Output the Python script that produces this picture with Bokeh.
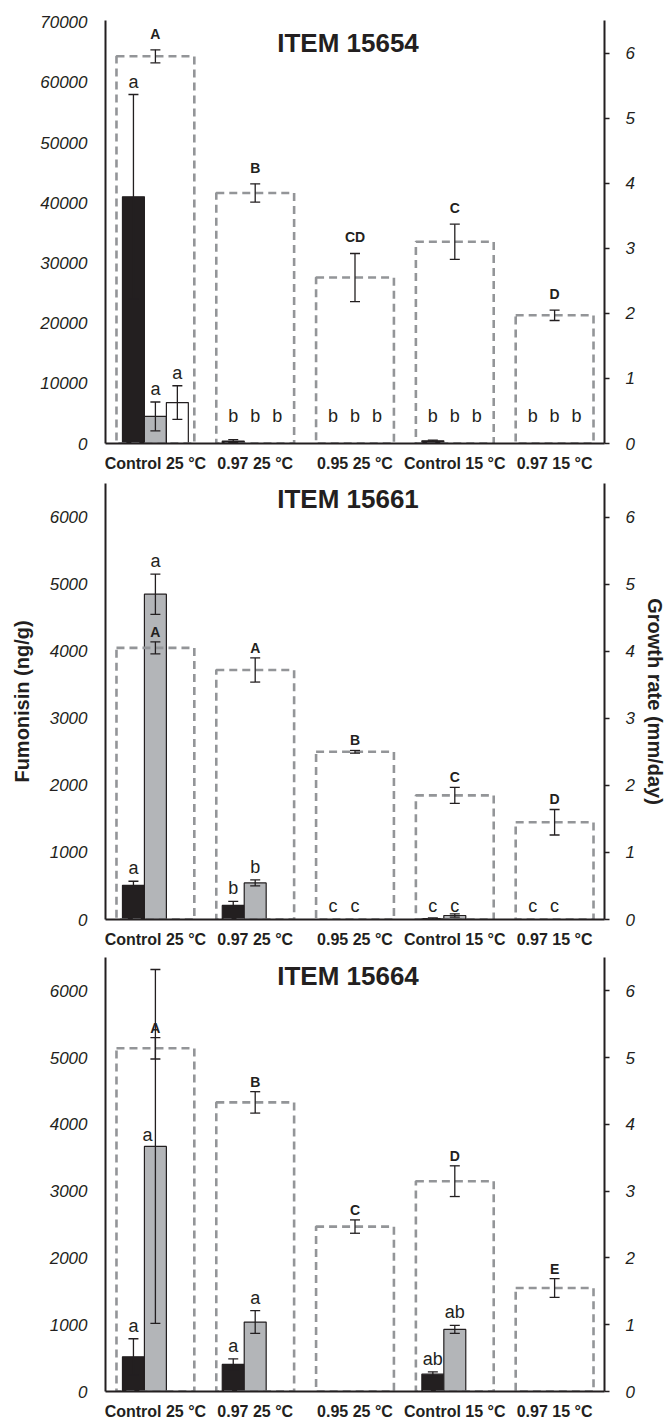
from bokeh.plotting import figure
from bokeh.layouts import column
from bokeh.models import (ColumnDataSource, FactorRange, Range1d, LinearAxis,
                          Whisker, TeeHead, Label, SingleIntervalTicker)
from bokeh.transform import dodge
from bokeh.core.properties import value
from bokeh.embed import file_html
from bokeh.resources import INLINE

categories = ["Control 25 °C", "0.97 25 °C", "0.95 25 °C", "Control 15 °C", "0.97 15 °C"]

# ---------------- ITEM 15654 ----------------
fb1_15654 = [41000, 400, 0, 450, 0]
fb1_err_15654 = [17000, 250, 0, 120, 0]
fb1_let_15654 = ["a", "b", "b", "b", "b"]
fb2_15654 = [4500, 0, 0, 0, 0]
fb2_err_15654 = [2400, 0, 0, 0, 0]
fb2_let_15654 = ["a", "b", "b", "b", "b"]
fb3_15654 = [6800, 0, 0, 0, 0]
fb3_err_15654 = [2800, 0, 0, 0, 0]
fb3_let_15654 = ["a", "b", "b", "b", "b"]
growth_15654 = [5.95, 3.85, 2.55, 3.10, 1.97]
growth_err_15654 = [0.10, 0.14, 0.37, 0.27, 0.08]
growth_let_15654 = ["A", "B", "CD", "C", "D"]

# ---------------- ITEM 15661 ----------------
fb1_15661 = [510, 210, 0, 15, 0]
fb1_err_15661 = [60, 60, 0, 8, 0]
fb1_let_15661 = ["a", "b", "c", "c", "c"]
fb2_15661 = [4850, 545, 0, 60, 0]
fb2_err_15661 = [300, 45, 0, 25, 0]
fb2_let_15661 = ["a", "b", "c", "c", "c"]
fb3_15661 = [0, 0, 0, 0, 0]
fb3_err_15661 = [0, 0, 0, 0, 0]
fb3_let_15661 = ["", "", "", "", ""]
growth_15661 = [4.05, 3.72, 2.50, 1.85, 1.45]
growth_err_15661 = [0.09, 0.18, 0.02, 0.12, 0.19]
growth_let_15661 = ["A", "A", "B", "C", "D"]

# ---------------- ITEM 15664 ----------------
fb1_15664 = [520, 405, 0, 260, 0]
fb1_err_15664 = [270, 85, 0, 35, 0]
fb1_let_15664 = ["a", "a", "", "ab", ""]
fb2_15664 = [3670, 1040, 0, 930, 0]
fb2_err_15664 = [2650, 170, 0, 60, 0]
fb2_let_15664 = ["a", "a", "", "ab", ""]
fb3_15664 = [0, 0, 0, 0, 0]
fb3_err_15664 = [0, 0, 0, 0, 0]
fb3_let_15664 = ["", "", "", "", ""]
growth_15664 = [5.14, 4.33, 2.47, 3.15, 1.55]
growth_err_15664 = [0.16, 0.16, 0.10, 0.23, 0.14]
growth_let_15664 = ["A", "B", "C", "D", "E"]

FONT = "Liberation Sans"
INK = "#231f20"
BAR_COLORS = [INK, "#b3b5b8", "#ffffff"]
OFFSETS = [-0.22, 0.0, 0.22]
BOX_COLOR = "#939598"


def make_panel(title, fbs, growth, growth_err, growth_let, y_end, y_step,
               fig_h, b_top, b_bot, x_standoff, title_y, glet_gap,
               zero_gap, zero_thresh, special=None, labels=False):
    special = special or {}
    p = figure(x_range=FactorRange(*categories, range_padding=0),
               y_range=Range1d(0, y_end), width=668, height=fig_h,
               output_backend="svg", toolbar_location=None,
               min_border_left=105, min_border_right=62,
               min_border_top=b_top, min_border_bottom=b_bot)
    p.extra_y_ranges = {"growth": Range1d(0, 6.5)}
    p.outline_line_color = None
    p.xgrid.visible = False
    p.ygrid.visible = False
    p.background_fill_color = "white"

    # left axis
    ya = p.yaxis[0]
    ya.ticker = SingleIntervalTicker(interval=y_step)
    ya.major_tick_out = 0
    ya.major_tick_in = 0
    ya.minor_tick_out = 0
    ya.minor_tick_in = 0
    ya.major_label_standoff = 18
    ya.axis_line_width = 2
    ya.axis_line_color = INK
    ya.major_label_text_font = FONT
    ya.major_label_text_font_style = "italic"
    ya.major_label_text_font_size = "17px"
    ya.major_label_text_color = INK

    # right axis
    ra = LinearAxis(y_range_name="growth", ticker=SingleIntervalTicker(interval=1))
    ra.major_tick_out = 5
    ra.major_tick_in = 0
    ra.minor_tick_out = 0
    ra.minor_tick_in = 0
    ra.major_tick_line_width = 1.5
    ra.major_tick_line_color = INK
    ra.major_label_standoff = 16
    ra.axis_line_width = 2
    ra.axis_line_color = INK
    ra.major_label_text_font = FONT
    ra.major_label_text_font_style = "italic"
    ra.major_label_text_font_size = "17px"
    ra.major_label_text_color = INK
    p.add_layout(ra, "right")

    if labels:
        ya.axis_label = "Fumonisin (ng/g)"
        ya.axis_label_text_font = FONT
        ya.axis_label_text_font_style = "bold"
        ya.axis_label_text_font_size = "20px"
        ya.axis_label_text_color = INK
        ya.axis_label_standoff = 14
        ra.axis_label = "Growth rate (mm/day)"
        ra.axis_label_text_font = FONT
        ra.axis_label_text_font_style = "bold"
        ra.axis_label_text_font_size = "20px"
        ra.axis_label_text_color = INK
        ra.axis_label_standoff = 6

    # bottom axis
    xa = p.xaxis[0]
    xa.major_tick_out = 0
    xa.major_tick_in = 0
    xa.axis_line_width = 2
    xa.axis_line_color = INK
    xa.major_label_standoff = x_standoff
    xa.major_label_text_font = FONT
    xa.major_label_text_font_style = "bold"
    xa.major_label_text_font_size = "16px"
    xa.major_label_text_color = INK

    # fumonisin bars
    for k, (vals, errs, lets) in enumerate(fbs):
        off = OFFSETS[k]
        src = ColumnDataSource(dict(cat=categories, val=vals))
        p.vbar(x=dodge("cat", off, range=p.x_range), top="val", width=0.22,
               source=src, fill_color=BAR_COLORS[k], line_color=INK, line_width=1.2)

    # growth rate boxes (dashed, unfilled)
    gsrc = ColumnDataSource(dict(cat=categories, g=growth))
    p.vbar(x="cat", top="g", width=0.78, source=gsrc, y_range_name="growth",
           fill_alpha=0, line_color=BOX_COLOR, line_width=2.6, line_dash="8 5")

    # fumonisin error bars + letters
    for k, (vals, errs, lets) in enumerate(fbs):
        off = OFFSETS[k]
        ec, eu, el = [], [], []
        for c, v, e in zip(categories, vals, errs):
            if e > 0:
                ec.append(c); eu.append(v + e); el.append(max(v - e, 0))
        if ec:
            esrc = ColumnDataSource(dict(cat=ec, upper=eu, lower=el))
            w = Whisker(source=esrc, base=dodge("cat", off, range=p.x_range),
                        upper="upper", lower="lower", level="annotation",
                        line_color=INK, line_width=1.3,
                        upper_head=TeeHead(size=10, line_color=INK, line_width=1.3),
                        lower_head=TeeHead(size=10, line_color=INK, line_width=1.3))
            p.add_layout(w)
        lc, ly, lyo, lxo, lt = [], [], [], [], []
        for i, (c, v, e, t) in enumerate(zip(categories, vals, errs, lets)):
            if not t:
                continue
            if (k, i) in special:
                ly.append(v); lyo.append(-11); lxo.append(special[(k, i)])
            elif v + e < zero_thresh:
                ly.append(0); lyo.append(-zero_gap); lxo.append(0)
            else:
                ly.append(v + e); lyo.append(-13); lxo.append(0)
            lc.append(c); lt.append(t)
        if lc:
            lsrc = ColumnDataSource(dict(cat=lc, y=ly, yo=lyo, xo=lxo, t=lt))
            p.text(x=dodge("cat", off, range=p.x_range), y="y", text="t",
                   x_offset="xo", y_offset="yo", source=lsrc,
                   text_align="center", text_baseline="alphabetic",
                   text_font=value(FONT), text_font_size="18px", text_color=INK)

    # growth error bars + letters
    gu = [g + e for g, e in zip(growth, growth_err)]
    gl = [g - e for g, e in zip(growth, growth_err)]
    gesrc = ColumnDataSource(dict(cat=categories, upper=gu, lower=gl, t=growth_let))
    gw = Whisker(source=gesrc, base="cat", upper="upper", lower="lower",
                 y_range_name="growth", level="annotation",
                 line_color=INK, line_width=1.3,
                 upper_head=TeeHead(size=10, line_color=INK, line_width=1.3),
                 lower_head=TeeHead(size=10, line_color=INK, line_width=1.3))
    p.add_layout(gw)
    p.text(x="cat", y="upper", text="t", source=gesrc, y_range_name="growth",
           y_offset=-glet_gap, text_align="center", text_baseline="alphabetic",
           text_font=value(FONT), text_font_style="bold", text_font_size="14px",
           text_color=INK)

    p.add_layout(Label(x=2.43, y=title_y, text=title, text_align="center",
                       text_baseline="middle", text_font=FONT,
                       text_font_style="bold", text_font_size="26px",
                       text_color=INK))
    return p


p1 = make_panel("ITEM 15654",
                [(fb1_15654, fb1_err_15654, fb1_let_15654),
                 (fb2_15654, fb2_err_15654, fb2_let_15654),
                 (fb3_15654, fb3_err_15654, fb3_let_15654)],
                growth_15654, growth_err_15654, growth_let_15654,
                y_end=70300, y_step=10000, fig_h=474, b_top=20, b_bot=30,
                x_standoff=11, title_y=66500, glet_gap=16,
                zero_gap=28, zero_thresh=1400)

p2 = make_panel("ITEM 15661",
                [(fb1_15661, fb1_err_15661, fb1_let_15661),
                 (fb2_15661, fb2_err_15661, fb2_let_15661),
                 (fb3_15661, fb3_err_15661, fb3_let_15661)],
                growth_15661, growth_err_15661, growth_let_15661,
                y_end=6500, y_step=1000, fig_h=476, b_top=9, b_bot=31,
                x_standoff=11, title_y=6270, glet_gap=10,
                zero_gap=14, zero_thresh=130, labels=True)

p3 = make_panel("ITEM 15664",
                [(fb1_15664, fb1_err_15664, fb1_let_15664),
                 (fb2_15664, fb2_err_15664, fb2_let_15664),
                 (fb3_15664, fb3_err_15664, fb3_let_15664)],
                growth_15664, growth_err_15664, growth_let_15664,
                y_end=6500, y_step=1000, fig_h=472, b_top=7, b_bot=28,
                x_standoff=11, title_y=6220, glet_gap=10,
                zero_gap=14, zero_thresh=130, special={(1, 0): -8})

layout = column(p1, p2, p3)
open("out.html", "w").write(file_html(layout, INLINE))
